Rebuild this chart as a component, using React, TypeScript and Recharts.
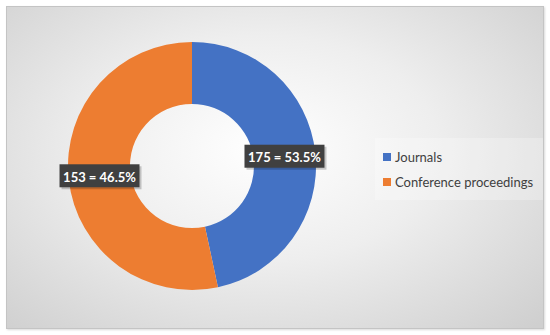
import { PieChart, Pie, Cell, Legend } from "recharts";

const CATEGORIES = ["Journals", "Conference proceedings"];
// ring shares as drawn in the picture (blue arc ends short of 6 o'clock)
const VALUES = [153, 175];
// label texts exactly as printed on the chart
const LABELS = ["175 = 53.5%", "153 = 46.5%"];
const COLORS = ["#4472C4", "#ED7D31"];

const FONT = "Lato, 'Noto Sans', sans-serif";

const data = CATEGORIES.map((name, i) => ({ name, value: VALUES[i] }));

const RAD = Math.PI / 180;

const renderLabel = (props: any) => {
    const { cx, cy, midAngle, innerRadius, outerRadius, index } = props;
    const r = (innerRadius + outerRadius) / 2;
    const x = cx + r * Math.cos(-midAngle * RAD);
    const y = cy + r * Math.sin(-midAngle * RAD);
    const w = 80;
    const h = 23;
    return (
        <g>
            <rect x={x - w / 2 + 2} y={y - h / 2 + 2} width={w} height={h} fill="#000" opacity={0.2} />
            <rect x={x - w / 2} y={y - h / 2} width={w} height={h} fill="#404040" />
            <text
                x={x}
                y={y + 1}
                fill="#fff"
                textAnchor="middle"
                dominantBaseline="central"
                fontFamily={FONT}
                fontWeight="bold"
                fontSize={13}
            >
                {LABELS[index]}
            </text>
        </g>
    );
};

const renderLegend = () => (
    <div
        style={{
            background: "rgba(255,255,255,0.25)",
            padding: "6px 8px",
            fontFamily: FONT,
            fontSize: 13,
            color: "#404040",
            whiteSpace: "nowrap",
        }}
    >
        {CATEGORIES.map((c, i) => (
            <div key={c} style={{ display: "flex", alignItems: "center", height: 25 }}>
                <span
                    style={{
                        display: "inline-block",
                        flexShrink: 0,
                        width: 8,
                        height: 8,
                        background: COLORS[i],
                        marginRight: 4,
                    }}
                />
                {c}
            </div>
        ))}
    </div>
);

export default function App() {
    return (
        <div style={{ position: "absolute", left: 0, top: 0, width: 550, height: 335, background: "#fff" }}>
            <div
                style={{
                    position: "absolute",
                    left: 6,
                    top: 6,
                    width: 536,
                    height: 321,
                    border: "1px solid #c4c4c4",
                    background: "radial-gradient(ellipse 72% 78% at 48% 44%, #ffffff 0%, #eeeeee 45%, #cfcfcf 100%)",
                    boxShadow: "1px 1px 2px rgba(0,0,0,0.15)",
                }}
            >
                <PieChart width={536} height={321} margin={{ top: 0, right: 0, bottom: 0, left: 0 }}>
                    <Pie
                        data={data}
                        dataKey="value"
                        nameKey="name"
                        cx={185}
                        cy={159}
                        innerRadius={62}
                        outerRadius={124}
                        startAngle={90}
                        endAngle={-270}
                        stroke="none"
                        label={renderLabel}
                        labelLine={false}
                        isAnimationActive={false}
                    >
                        {data.map((_, i) => (
                            <Cell key={i} fill={COLORS[i]} />
                        ))}
                    </Pie>
                    <Legend
                        layout="vertical"
                        align="right"
                        verticalAlign="middle"
                        content={renderLegend}
                        wrapperStyle={{ left: 368, top: 131, width: 168 }}
                    />
                </PieChart>
            </div>
        </div>
    );
}
